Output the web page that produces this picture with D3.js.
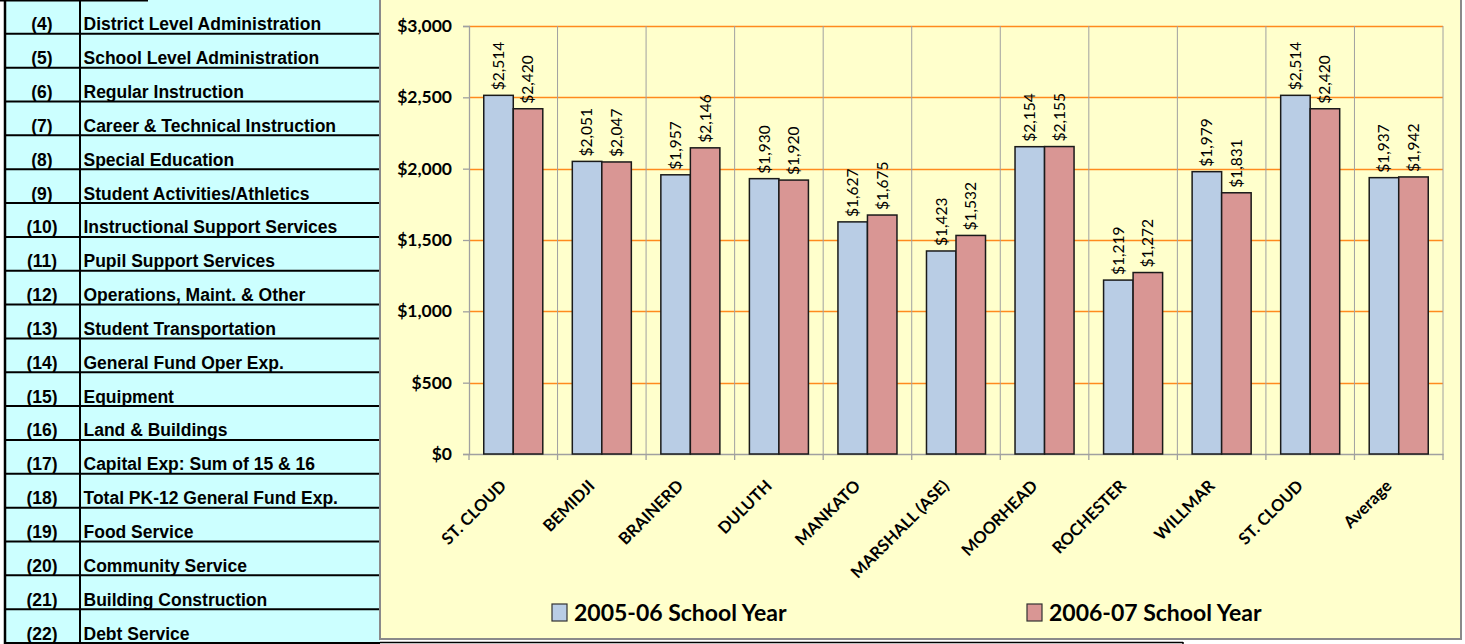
<!DOCTYPE html>
<html>
<head>
<meta charset="utf-8">
<script src="https://cdn.jsdelivr.net/npm/d3@7"></script>
<style>
  html, body { margin: 0; padding: 0; background: #ffffff; }
  svg { display: block; }
</style>
</head>
<body>
<svg id="chart" width="1465" height="644"></svg>
<script>
// ---------- DATA ----------
const categories = ["ST. CLOUD", "BEMIDJI", "BRAINERD", "DULUTH", "MANKATO", "MARSHALL (ASE)",
                    "MOORHEAD", "ROCHESTER", "WILLMAR", "ST. CLOUD", "Average"];
const series2005 = [2514, 2051, 1957, 1930, 1627, 1423, 2154, 1219, 1979, 2514, 1937];
const series2006 = [2420, 2047, 2146, 1920, 1675, 1532, 2155, 1272, 1831, 2420, 1942];
const seriesNames = ["2005-06 School Year", "2006-07 School Year"];
const yTicks = [0, 500, 1000, 1500, 2000, 2500, 3000];
const rowNumbers = ["(4)", "(5)", "(6)", "(7)", "(8)", "(9)", "(10)", "(11)", "(12)", "(13)",
                    "(14)", "(15)", "(16)", "(17)", "(18)", "(19)", "(20)", "(21)", "(22)"];
const rowLabels = ["District Level Administration", "School Level Administration", "Regular Instruction",
  "Career & Technical Instruction", "Special Education", "Student Activities/Athletics",
  "Instructional Support Services", "Pupil Support Services", "Operations, Maint. & Other",
  "Student Transportation", "General Fund Oper Exp.", "Equipment", "Land & Buildings",
  "Capital Exp: Sum of 15 & 16", "Total PK-12 General Fund Exp.", "Food Service",
  "Community Service", "Building Construction", "Debt Service"];

// ---------- STYLE ----------
const colors = ["#B9CDE5", "#D99694"];
const svg = d3.select("#chart");
const fmt = v => "$" + d3.format(",")(v);

// ---------- LEFT TABLE ----------
const table = svg.append("g");
const tableTop = 0, tableBottom = 643, tableLeft = 5, colDiv = 80, tableRight = 380;
const rowScale = d3.scaleBand().domain(d3.range(rowLabels.length)).range([tableTop, tableBottom]);
table.append("rect").attr("x", tableLeft).attr("y", tableTop).attr("width", tableRight - tableLeft)
  .attr("height", tableBottom - tableTop).attr("fill", "#CCFFFF");
table.append("line").attr("x1", 0).attr("x2", 148).attr("y1", 0.5).attr("y2", 0.5)
  .attr("stroke", "#000").attr("stroke-width", 2);
table.selectAll("line.row").data(d3.range(1, rowLabels.length + 1)).join("line")
  .attr("class", "row")
  .attr("x1", tableLeft).attr("x2", tableRight)
  .attr("y1", i => rowScale(i - 1) + rowScale.bandwidth())
  .attr("y2", i => rowScale(i - 1) + rowScale.bandwidth())
  .attr("stroke", "#000").attr("stroke-width", 2);
table.append("line").attr("x1", tableLeft).attr("x2", tableLeft).attr("y1", 0).attr("y2", 644)
  .attr("stroke", "#000").attr("stroke-width", 2.5);
table.append("line").attr("x1", colDiv).attr("x2", colDiv).attr("y1", 0).attr("y2", 644)
  .attr("stroke", "#000").attr("stroke-width", 2);
table.selectAll("text.num").data(rowNumbers).join("text")
  .attr("class", "num")
  .attr("x", 42).attr("y", (d, i) => rowScale(i) + rowScale.bandwidth() - 3.5)
  .attr("text-anchor", "middle")
  .style("font-family", "'Liberation Sans', Arial, sans-serif")
  .style("font-weight", "bold").style("font-size", "17.5px").attr("fill", "#000")
  .text(d => d);
table.selectAll("text.lbl").data(rowLabels).join("text")
  .attr("class", "lbl")
  .attr("x", 83.5).attr("y", (d, i) => rowScale(i) + rowScale.bandwidth() - 3.5)
  .style("font-family", "'Liberation Sans', Arial, sans-serif")
  .style("font-weight", "bold").style("font-size", "17.5px").attr("fill", "#000")
  .text(d => d);

// ---------- CHART AREA ----------
svg.append("rect").attr("x", 380).attr("y", -3).attr("width", 1081).attr("height", 642)
  .attr("fill", "#FFFFCC").attr("stroke", "#8a8a8a").attr("stroke-width", 2);
svg.append("line").attr("x1", 380).attr("x2", 1183).attr("y1", 642.5).attr("y2", 642.5)
  .attr("stroke", "#000").attr("stroke-width", 1.5);
svg.append("line").attr("x1", 1183).attr("x2", 1183).attr("y1", 642).attr("y2", 644)
  .attr("stroke", "#000").attr("stroke-width", 1.5);

const plot = { left: 469, right: 1443, top: 26, bottom: 454 };
const x = d3.scaleBand().domain(d3.range(categories.length)).range([plot.left, plot.right]);
const bw = x.bandwidth();
const xSub = d3.scaleBand().domain([0, 1]).range([bw / 6, bw - bw / 6]);
const y = d3.scaleLinear().domain([0, 3000]).range([plot.bottom, plot.top]);

// horizontal gridlines
svg.append("g").selectAll("line").data(yTicks.filter(t => t > 0)).join("line")
  .attr("x1", plot.left).attr("x2", plot.right)
  .attr("y1", d => Math.round(y(d)) + 0.5).attr("y2", d => Math.round(y(d)) + 0.5)
  .attr("stroke", "#FF8A1E").attr("stroke-width", 1.3);
// vertical gridlines
svg.append("g").selectAll("line").data(d3.range(1, categories.length + 1)).join("line")
  .attr("x1", i => x(i - 1) + bw).attr("x2", i => x(i - 1) + bw)
  .attr("y1", plot.top).attr("y2", plot.bottom)
  .attr("stroke", "#A0A0A0").attr("stroke-width", 1);

// y axis
const yAxis = svg.append("g").attr("transform", `translate(${plot.left},0)`)
  .call(d3.axisLeft(y).tickValues(yTicks).tickSize(6).tickFormat(fmt));
yAxis.select(".domain").attr("stroke", "#A0A0A0").attr("stroke-width", 1.3);
yAxis.selectAll(".tick line").attr("stroke", "#A0A0A0").attr("stroke-width", 1.3);
yAxis.selectAll(".tick text")
  .attr("x", -17)
  .style("font-family", "Lato, 'Open Sans', sans-serif").style("font-weight", "bold")
  .style("font-size", "17.5px").attr("fill", "#000");

// x axis
const xAxis = svg.append("g").attr("transform", `translate(0,${plot.bottom})`)
  .call(d3.axisBottom(x).tickSize(0).tickFormat(""));
xAxis.select(".domain").attr("stroke", "#A0A0A0").attr("stroke-width", 1.3);
xAxis.selectAll(".tick").remove();
svg.append("g").selectAll("line").data(d3.range(0, categories.length + 1)).join("line")
  .attr("x1", i => plot.left + i * bw).attr("x2", i => plot.left + i * bw)
  .attr("y1", plot.bottom).attr("y2", plot.bottom + 6)
  .attr("stroke", "#A0A0A0").attr("stroke-width", 1.3);
svg.append("g").selectAll("text").data(categories).join("text")
  .attr("transform", (d, i) => `translate(${x(i) + bw / 2 - 6},487) rotate(-45)`)
  .attr("text-anchor", "end")
  .style("font-family", "Lato, 'Open Sans', sans-serif").style("font-weight", "bold")
  .style("font-size", "16.5px").attr("fill", "#000")
  .text(d => d);

// bars
const data = categories.map((c, i) => ({ i, vals: [series2005[i], series2006[i]] }));
const groups = svg.append("g").selectAll("g").data(data).join("g")
  .attr("transform", d => `translate(${x(d.i)},0)`);
groups.selectAll("rect").data(d => d.vals.map((v, s) => ({ v, s }))).join("rect")
  .attr("x", d => xSub(d.s)).attr("width", xSub.bandwidth())
  .attr("y", d => y(d.v)).attr("height", d => y(0) - y(d.v))
  .attr("fill", d => colors[d.s]).attr("stroke", "#1a1a1a").attr("stroke-width", 1.5);
groups.selectAll("text").data(d => d.vals.map((v, s) => ({ v, s }))).join("text")
  .attr("transform", d => `translate(${xSub(d.s) + xSub.bandwidth() / 2},${y(d.v) - 5}) rotate(-90)`)
  .attr("dy", "0.35em")
  .style("font-family", "Lato, 'Open Sans', sans-serif")
  .style("font-size", "15.5px").attr("fill", "#000")
  .text(d => fmt(d.v));

// legend
const legendX = [552, 1027];
const legend = svg.append("g").selectAll("g").data(seriesNames).join("g")
  .attr("transform", (d, i) => `translate(${legendX[i]},604)`);
legend.append("rect").attr("width", 15).attr("height", 17)
  .attr("fill", (d, i) => colors[i]).attr("stroke", "#333").attr("stroke-width", 1.2);
legend.append("text").attr("x", 22).attr("y", 16.5)
  .style("font-family", "Lato, 'Open Sans', sans-serif").style("font-weight", "bold")
  .style("font-size", "23px").attr("fill", "#000")
  .text(d => d);
</script>
</body>
</html>
